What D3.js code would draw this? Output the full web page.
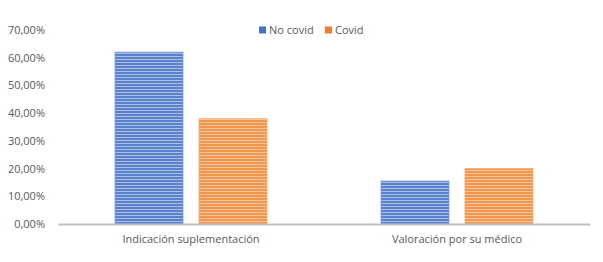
<!DOCTYPE html>
<html>
<head>
<meta charset="UTF-8">
<script src="https://cdn.jsdelivr.net/npm/d3@7"></script>
<style>
  body { margin: 0; background: #fff; }
  text { font-family: "Open Sans", "Liberation Sans", sans-serif; fill: #595959; }
</style>
</head>
<body>
<div id="chart"></div>
<script>
var categories = ['Indicación suplementación', 'Valoración por su médico'];
var series = ['No covid', 'Covid'];
var noCovid = [0.62, 0.155];
var covid = [0.38, 0.20];
var yTicks = [0, 0.1, 0.2, 0.3, 0.4, 0.5, 0.6, 0.7];

var width = 603, height = 262;
var margin = {top: 30, right: 13, bottom: 38, left: 58};
var plotW = width - margin.left - margin.right;
var plotH = height - margin.top - margin.bottom;

var svg = d3.select('#chart').append('svg')
    .attr('width', width)
    .attr('height', height);

// striped fills
var defs = svg.append('defs');
function stripes(id, dark, light) {
    var p = defs.append('pattern')
        .attr('id', id)
        .attr('patternUnits', 'userSpaceOnUse')
        .attr('width', 4).attr('height', 3);
    p.append('rect').attr('width', 4).attr('height', 3).attr('fill', dark);
    p.append('rect').attr('y', 2).attr('width', 4).attr('height', 1).attr('fill', light);
}
stripes('blueStripe', '#5981cc', '#a9bfe8');
stripes('orangeStripe', '#f0964f', '#f8c49a');
var fills = {'No covid': 'url(#blueStripe)', 'Covid': 'url(#orangeStripe)'};
var edges = {'No covid': '#7e9ed8', 'Covid': '#f3aa72'};
var legendColors = {'No covid': '#4472c4', 'Covid': '#ed7d31'};

var g = svg.append('g')
    .attr('transform', 'translate(' + margin.left + ',' + margin.top + ')');

var x0 = d3.scaleBand().domain(categories).range([0, plotW]).paddingInner(0).paddingOuter(0);
var x1 = d3.scaleBand().domain(series).range([57, x0.bandwidth() - 57]).paddingInner(0.19);
var y = d3.scaleLinear().domain([0, 0.7]).range([plotH, 0]);

var yAxis = d3.axisLeft(y)
    .tickValues(yTicks)
    .tickSize(0)
    .tickPadding(13)
    .tickFormat(function(d) { return d3.format('.2f')(d * 100).replace('.', ',') + '%'; });
var gy = g.append('g').call(yAxis);
gy.select('.domain').remove();
gy.selectAll('text').style('font-size', '11px').attr('fill', '#595959');

var rows = categories.map(function(c, i) {
    return {cat: c, vals: [{s: 'No covid', v: noCovid[i]}, {s: 'Covid', v: covid[i]}]};
});

var groups = g.selectAll('.grp').data(rows).enter().append('g')
    .attr('transform', function(d) { return 'translate(' + x0(d.cat) + ',0)'; });
groups.selectAll('rect').data(function(d) { return d.vals; }).enter().append('rect')
    .attr('x', function(d) { return x1(d.s); })
    .attr('y', function(d) { return y(d.v); })
    .attr('width', x1.bandwidth())
    .attr('height', function(d) { return plotH - y(d.v); })
    .attr('fill', function(d) { return fills[d.s]; })
    .attr('stroke', function(d) { return edges[d.s]; })
    .attr('stroke-width', 0.8);

var xAxis = d3.axisBottom(x0).tickSize(0).tickPadding(11);
var gx = g.append('g').attr('transform', 'translate(0,' + plotH + ')').call(xAxis);
gx.select('.domain').attr('stroke', '#bfbfbf').attr('stroke-width', 2);
gx.selectAll('text').style('font-size', '11px').attr('fill', '#595959');

// legend
var legend = svg.append('g').attr('transform', 'translate(259,30)');
var lx = [0, 66];
series.forEach(function(s, i) {
    var it = legend.append('g').attr('transform', 'translate(' + lx[i] + ',0)');
    it.append('rect').attr('x', 0).attr('y', -3.5).attr('width', 7).attr('height', 7)
        .attr('fill', legendColors[s]);
    it.append('text').attr('x', 10).attr('y', 0).attr('dy', '0.35em')
        .style('font-size', '11px').text(s);
});
</script>
</body>
</html>
